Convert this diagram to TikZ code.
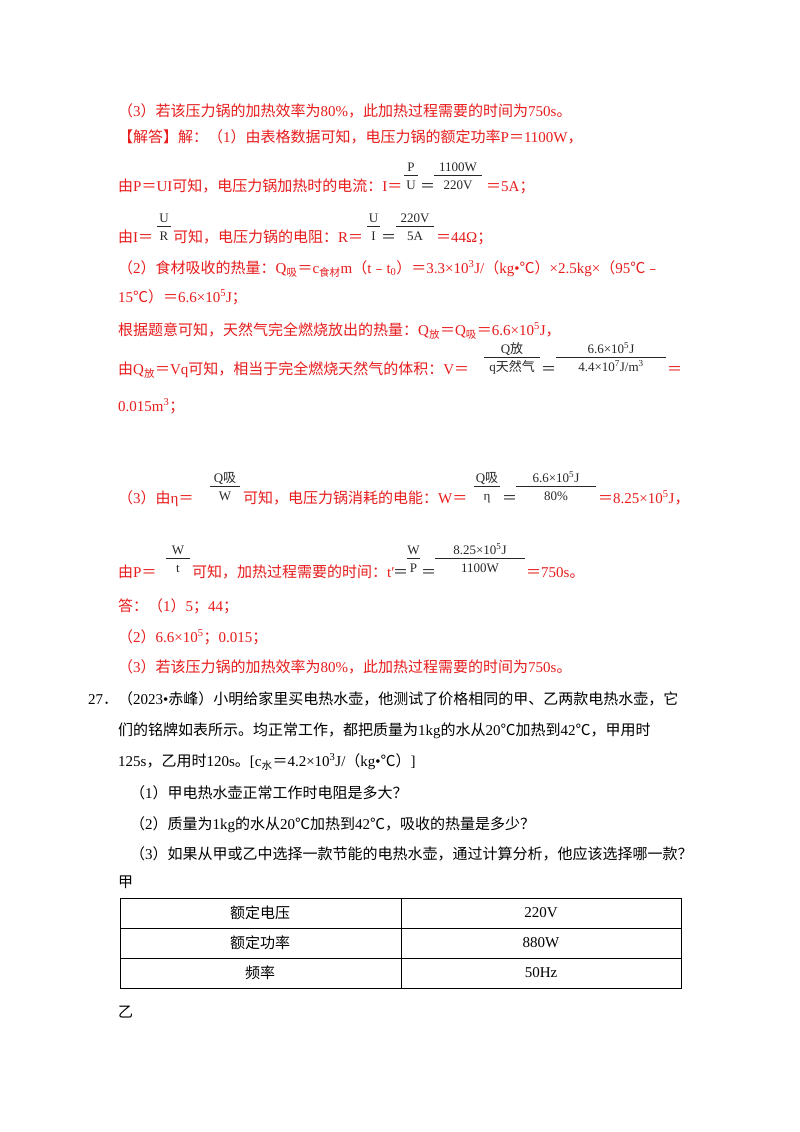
\documentclass[tikz,border=0pt]{standalone}
\usepackage{fontspec}
\setmainfont{Liberation Serif}
\newfontfamily\cjk{Noto Sans CJK SC}
\usetikzlibrary{positioning}
\definecolor{ans}{RGB}{232,28,28}
\definecolor{img}{RGB}{40,40,40}
\makeatletter
\newXeTeXintercharclass\cjkcls
\def\setcls#1#2{\count@=#1 \loop\XeTeXcharclass\count@=\cjkcls
  \ifnum\count@<#2 \advance\count@ 1 \repeat}
\setcls{"4E00}{"9FFF}\setcls{"3000}{"303F}\setcls{"FF00}{"FFEF}\setcls{"FE30}{"FE6F}
\XeTeXcharclass"2103=\cjkcls
\XeTeXinterchartoks 0 \cjkcls={\cjk}
\XeTeXinterchartoks 4095 \cjkcls={\cjk}
\XeTeXinterchartoks \cjkcls 0={\rmfamily}
\XeTeXinterchartoks \cjkcls 4095={\rmfamily}
\makeatother
\tikzset{
  txt/.style={anchor=base west, inner sep=0pt, font=\fontsize{15}{18}\selectfont},
  redtxt/.style={txt, text=ans},
  fr/.style={inner sep=0pt, text=img, font=\fontsize{13}{15}\selectfont},
  cell/.style={inner sep=0pt, font=\fontsize{15}{18}\selectfont}
}
% fraction: name, x1, x2, bar y, numerator, denominator
\newcommand\frc[6]{%
  \coordinate (#1a) at (#2,#4);
  \coordinate (#1b) at (#3,#4);
  \draw[img, line width=1pt] (#1a) -- (#1b);
  \node (#1n) [fr, anchor=base] at ({(#2+#3)/2},#4-4) {#5};
  \node (#1d) [fr, anchor=base] at ({(#2+#3)/2},#4+14) {#6};
}
\begin{document}
\XeTeXinterchartokenstate=1
\begin{tikzpicture}[x=1pt, y=-1pt]
    \useasboundingbox[fill=white] (0,0) rectangle (800,1132);

    \node (l1) [redtxt] at (118,116) {（3）若该压力锅的加热效率为80\%，此加热过程需要的时间为750s。};
    \node (l2) [redtxt] at (118,142) {【解答】解：（1）由表格数据可知，电压力锅的额定功率P＝1100W，};

    \node (l3) [redtxt] at (118,191) {由P＝UI可知，电压力锅加热时的电流：I＝};
    \frc{f1}{404}{418}{175}{P}{U}
    \node (e1) [txt, text=img] at (420,191) {＝};
    \frc{f2}{434}{482}{175}{1100W}{220V}
    \node (l3b) [redtxt] at (486,191) {＝5A；};

    \node (l4) [redtxt] at (118,242) {由I＝};
    \frc{f3}{157}{171}{226}{U}{R}
    \node (l4b) [redtxt] at (173,242) {可知，电压力锅的电阻：R＝};
    \frc{f4}{367}{380}{226}{U}{I}
    \node (e2) [txt, text=img] at (381,242) {＝};
    \frc{f5}{396}{434}{226}{220V}{5A}
    \node (l4c) [redtxt] at (436,242) {＝44Ω；};

    \node (l5) [redtxt] at (118,273) {（2）食材吸收的热量：Q\textsubscript{吸}＝c\textsubscript{食材}m（t﹣t\textsubscript{0}）＝3.3×10\textsuperscript{3}J/（kg•℃）×2.5kg×（95℃﹣};
    \node (l6) [redtxt] at (118,302) {15℃）＝6.6×10\textsuperscript{5}J；};
    \node (l7) [redtxt] at (118,335) {根据题意可知，天然气完全燃烧放出的热量：Q\textsubscript{放}＝Q\textsubscript{吸}＝6.6×10\textsuperscript{5}J，};

    \node (l8) [redtxt] at (118,374) {由Q\textsubscript{放}＝Vq可知，相当于完全燃烧天然气的体积：V＝};
    \frc{f6}{484}{540}{357}{Q放}{q天然气}
    \node (e3) [txt, text=img] at (541,374) {＝};
    \frc{f7}{556}{666}{357}{6.6×10\textsuperscript{5}J}{4.4×10\textsuperscript{7}J/m\textsuperscript{3}}
    \node (l8b) [redtxt] at (667,374) {＝};
    \node (l9) [redtxt] at (118,411) {0.015m\textsuperscript{3}；};

    \node (l10) [redtxt] at (118,503) {（3）由η＝};
    \frc{f8}{210}{240}{486}{Q吸}{W}
    \node (l10b) [redtxt] at (243,503) {可知，电压力锅消耗的电能：W＝};
    \frc{f9}{474}{500}{486}{Q吸}{η}
    \node (e4) [txt, text=img] at (502,503) {＝};
    \frc{f10}{516}{596}{486}{6.6×10\textsuperscript{5}J}{80\%}
    \node (l10c) [redtxt] at (598,503) {＝8.25×10\textsuperscript{5}J，};

    \node (l11) [redtxt] at (118,577) {由P＝};
    \frc{f11}{166}{190}{558}{W}{t}
    \node (l11b) [redtxt] at (192,577) {可知，加热过程需要的时间：t′};
    \node (e5) [txt, text=img] at (393,577) {＝};
    \frc{f12}{407}{420}{558}{W}{P}
    \node (e6) [txt, text=img] at (421,577) {＝};
    \frc{f13}{435}{525}{558}{8.25×10\textsuperscript{5}J}{1100W}
    \node (l11c) [redtxt] at (526,577) {＝750s。};

    \node (a1) [redtxt] at (118,611) {答：（1）5；44；};
    \node (a2) [redtxt] at (118,642) {（2）6.6×10\textsuperscript{5}；0.015；};
    \node (a3) [redtxt] at (118,672) {（3）若该压力锅的加热效率为80\%，此加热过程需要的时间为750s。};

    \node (q1) [txt] at (88,704) {27．（2023•赤峰）小明给家里买电热水壶，他测试了价格相同的甲、乙两款电热水壶，它};
    \node (q2) [txt] at (118,735) {们的铭牌如表所示。均正常工作，都把质量为1kg的水从20℃加热到42℃，甲用时};
    \node (q3) [txt] at (118,766) {125s，乙用时120s。[c\textsubscript{水}＝4.2×10\textsuperscript{3}J/（kg•℃）]};
    \node (q4) [txt] at (130,798) {（1）甲电热水壶正常工作时电阻是多大？};
    \node (q5) [txt] at (130,829) {（2）质量为1kg的水从20℃加热到42℃，吸收的热量是多少？};
    \node (q6) [txt] at (130,859) {（3）如果从甲或乙中选择一款节能的电热水壶，通过计算分析，他应该选择哪一款？};
    \node (jia) [txt] at (118,887) {甲};

    % table
    \draw[line width=0.8pt] (120,898) rectangle (681,988);
    \draw[line width=0.8pt] (120,928) -- (681,928) (120,958) -- (681,958) (401,898) -- (401,988);
    \node (c11) [cell] at (260,913) {额定电压};
    \node (c12) [cell] at (541,913) {220V};
    \node (c21) [cell] at (260,943) {额定功率};
    \node (c22) [cell] at (541,943) {880W};
    \node (c31) [cell] at (260,973) {频率};
    \node (c32) [cell] at (541,973) {50Hz};

    \node (yi) [txt] at (118,1017) {乙};
\end{tikzpicture}
\end{document}
